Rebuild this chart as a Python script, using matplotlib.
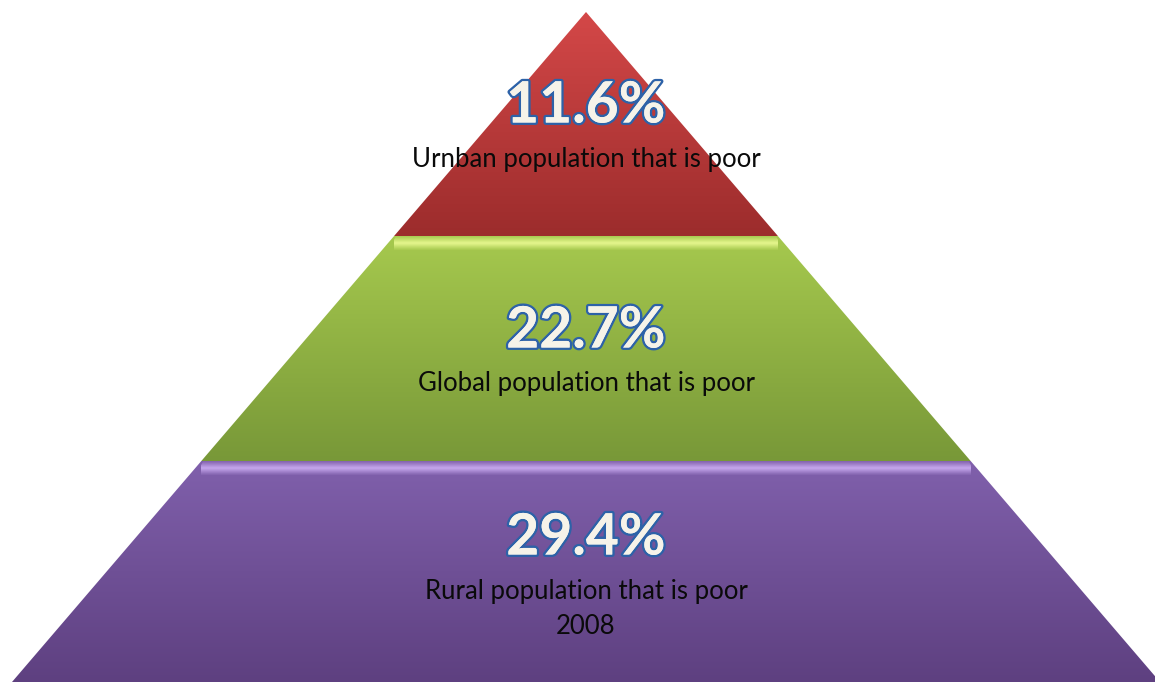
import numpy as np
import matplotlib
matplotlib.use("Agg")
import matplotlib.pyplot as plt
from matplotlib.patches import Polygon
from matplotlib.colors import LinearSegmentedColormap
import matplotlib.patheffects as pe

# ---- data ----
values = ["11.6%", "22.7%", "29.4%"]
labels = ["Urnban population that is poor", "Global population that is poor",
          "Rural population that is poor\n2008"]
top_colors = ["#d44848", "#a6c94e", "#8060ac"]
bottom_colors = ["#9c2c2c", "#789838", "#5e4080"]
band_colors = [None, "#e6f78e", "#c7a8ee"]

W, H = 1155, 682
fig = plt.figure(figsize=(W / 100, H / 100), dpi=100)
ax = fig.add_axes([0, 0, 1, 1])
ax.set_xlim(0, W)
ax.set_ylim(H, 0)
ax.axis("off")

apex_x, apex_y = 586, 12
slope = (586 - 12) / (682 - 12)  # x per y
bounds = [12, 236, 461, 682]

def xs_at(y):
    d = (y - apex_y) * slope
    return apex_x - d, apex_x + d

for i in range(3):
    y0, y1 = bounds[i], bounds[i + 1]
    l0, r0 = xs_at(y0)
    l1, r1 = xs_at(y1)
    poly = Polygon([(l0, y0), (r0, y0), (r1, y1), (l1, y1)], closed=True,
                   facecolor="none", edgecolor="none")
    ax.add_patch(poly)
    cmap = LinearSegmentedColormap.from_list("g%d" % i, [top_colors[i], bottom_colors[i]])
    grad = np.linspace(0, 1, 256).reshape(-1, 1)
    im = ax.imshow(grad, cmap=cmap, extent=[l1, r1, y1, y0], aspect="auto",
                   interpolation="bicubic", zorder=1)
    im.set_clip_path(poly)
    if band_colors[i]:
        bh = 14
        bl, br = xs_at(y0 + bh)
        band = Polygon([(l0 + 2, y0), (r0 - 2, y0), (br - 6, y0 + bh), (bl + 6, y0 + bh)],
                       closed=True, facecolor="none", edgecolor="none")
        ax.add_patch(band)
        bc = LinearSegmentedColormap.from_list(
            "b%d" % i, [top_colors[i], band_colors[i], top_colors[i]])
        bim = ax.imshow(grad, cmap=bc, extent=[l0, r0, y0 + bh, y0], aspect="auto",
                        interpolation="bicubic", zorder=2)
        bim.set_clip_path(band)

val_y = [106, 331, 538]
lab_y = [160, 383, 609]
for i in range(3):
    ax.text(586, val_y[i], values[i], ha="center", va="center", fontsize=41,
            fontweight="bold", family="Lato", color="#f6f3e9", zorder=5,
            path_effects=[pe.withStroke(linewidth=3.5, foreground="#2d62a8"),
                          pe.Normal()])
    ax.text(586, lab_y[i], labels[i], ha="center", va="center", fontsize=18.5,
            family="Lato", color="#0a0a0a", zorder=5, linespacing=1.5)

fig.savefig("out.png", dpi=100)
